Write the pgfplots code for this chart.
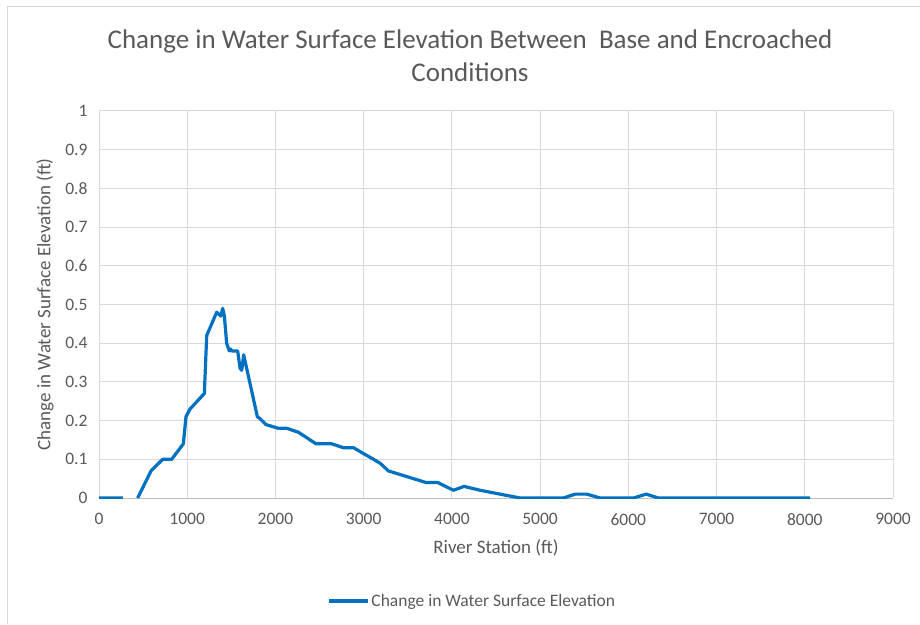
\documentclass[border=0pt]{standalone}
\usepackage{fontspec}
\setmainfont{Carlito}
\usepackage{pgfplots}
\pgfplotsset{compat=1.18}
\definecolor{txtgray}{HTML}{595959}
\definecolor{gridgray}{HTML}{D9D9D9}
\definecolor{axgray}{HTML}{BFBFBF}
\definecolor{exblue}{HTML}{0070C0}
\begin{document}
\begin{tikzpicture}
\useasboundingbox (0pt,0pt) rectangle (920pt,624pt);
\draw[gridgray, line width=1.5pt] (7.5pt,0pt) -- (7.5pt,617.5pt) -- (920pt,617.5pt);
\node[txtgray, font=\fontsize{27}{33}\selectfont, align=center] at (470pt,568pt)
  {Change in Water Surface Elevation Between\ \ Base and Encroached\\Conditions};
\begin{axis}[
  at={(99pt,126pt)}, anchor=south west,
  scale only axis, width=794pt, height=387pt,
  xmin=0, xmax=9000, ymin=0, ymax=1,
  xtick={0,1000,...,9000},
  ytick={0,0.1,...,1},
  scaled ticks=false,
  /pgf/number format/assume math mode=true,
  /pgf/number format/1000 sep={},
  /pgf/number format/fixed,
  xmajorgrids, ymajorgrids,
  grid style={gridgray, line width=1pt},
  major tick length=0pt,
  axis line style={draw=none},
  tick label style={txtgray, font=\fontsize{17.5}{21}\selectfont},
  yticklabel style={xshift=-8pt},
  xticklabel style={yshift=-12pt},
  xlabel={River Station (ft)},
  ylabel={Change in Water Surface Elevation (ft)},
  label style={txtgray, font=\fontsize{19}{23}\selectfont},
  xlabel style={at={(0.5,0)}, anchor=center, yshift=-50pt},
  ylabel style={at={(0,0.5)}, anchor=center, rotate=0, yshift=54pt},
  unbounded coords=jump,
  legend style={at={(0.47,-0.266)}, anchor=center, draw=none, fill=none,
    font=\fontsize{17.5}{21}\selectfont, text=txtgray, inner sep=0pt},
  legend image code/.code={\draw[#1] (0pt,0pt) -- (39pt,0pt);},
  legend cell align=left,
]
\draw[axgray, line width=1pt] (axis cs:0,0) -- (axis cs:9000,0);
\addplot[exblue, line width=3.2pt, line join=round, mark=none] coordinates {
(0,0) (272,0) (350,nan) (438,0) (590,0.07) (722,0.10) (824,0.10) (956,0.14)
(986,0.21) (1032,0.23) (1194,0.27) (1221,0.42) (1334,0.48) (1380,0.47)
(1402,0.49) (1421,0.47) (1447,0.40) (1477,0.38) (1490,0.385) (1505,0.38)
(1572,0.38) (1599,0.335) (1618,0.33) (1640,0.37) (1795,0.21) (1825,0.205)
(1890,0.19) (2033,0.18) (2128,0.18) (2260,0.17) (2460,0.14) (2638,0.14)
(2770,0.13) (2884,0.13) (3186,0.09) (3280,0.07) (3707,0.04) (3840,0.04)
(4017,0.02) (4138,0.03) (4320,0.02) (4546,0.01) (4773,0) (5264,0)
(5397,0.01) (5529,0.01) (5680,0) (6058,0) (6202,0.01) (6341,0) (8060,0)
};
\addlegendentry{Change in Water Surface Elevation}
\end{axis}
\end{tikzpicture}
\end{document}
